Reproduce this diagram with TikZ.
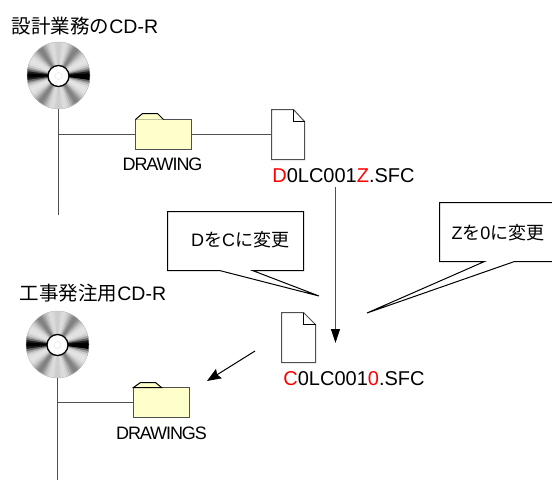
\documentclass[tikz,border=0pt]{standalone}
\usepackage{fontspec}
\setmainfont{Liberation Sans}
\newfontfamily\jpfont{Noto Sans CJK JP}
\newfontfamily\tightfont[LetterSpace=-6]{Liberation Sans}
\usetikzlibrary{arrows.meta,shapes.geometric}
\definecolor{foldercol}{HTML}{FFFFCC}
\definecolor{linecol}{HTML}{505050}
\begin{document}
\begin{tikzpicture}[x=1pt,y=-1pt,
	cddisc/.style = {ellipse, draw=gray!50, line width=0.4pt, fill=white, minimum width=63pt, minimum height=67pt, inner sep=0pt, outer sep=0pt,
		path picture={
			\foreach \a in {0,4,...,356}{
				\pgfmathsetmacro\t{abs(abs(mod(\a+2,180)-90)-90)}
				\pgfmathsetmacro\p{100*min(1,0.1+1.0*exp(-(\t/12)*(\t/12))+0.4*exp(-((\t-56)/13)*((\t-56)/13))+0.1*exp(-((\t-90)/8)*((\t-90)/8)))}
				\fill[black!\p, shift={(path picture bounding box.center)}] (0,0) -- (\a:40) -- (\a+12:40) -- cycle;
			}
		}},
	cdhole/.style = {circle, draw=black, line width=1.3pt, fill=white, minimum size=21pt, inner sep=0pt},
	cdspot/.style = {circle, draw=black!10, line width=0.5pt, minimum size=7pt, inner sep=0pt},
	conn/.style = {draw=linecol, line width=1pt},
	thinline/.style = {draw=black, line width=1pt},
	folderbox/.style = {rectangle, draw=linecol, line width=1pt, fill=foldercol, minimum width=56pt, minimum height=30pt, inner sep=0pt, outer sep=0pt},
	filebox/.style = {rectangle, minimum width=33pt, minimum height=50pt, inner sep=0pt, outer sep=0pt},
	callbox/.style = {rectangle, minimum height=59pt, inner sep=0pt, outer sep=0pt},
	title/.style = {inner sep=0pt, font=\fontsize{19.5}{21}\selectfont},
	dirname/.style = {inner sep=0pt, font=\tightfont\fontsize{18}{20}\selectfont},
	fname/.style = {inner sep=0pt, font=\fontsize{20}{22}\selectfont},
	calltext/.style = {inner sep=0pt, font=\fontsize{18}{20}\selectfont}]
	\useasboundingbox (0,0) rectangle (552,480);

	% upper CD
	\node[title] (ta) at (85,26) {{\jpfont 設計業務の}CD-R};
	\node[cddisc] (cda) at (58.5,75.5) {};
	\node[cdhole] (ha) at (58.5,76) {};
	\node[cdspot] (sa) at (58.5,76) {};
	\node[folderbox] (fa) at (163.5,134.5) {};
	\node[dirname] (da) at (162.5,164) {DRAWING};
	\node[filebox] (pa) at (288,134.5) {};
	\node[fname] (la) at (343.5,176) {\textcolor{red}{D}0LC001\textcolor{red}{Z}.SFC};
	\coordinate (brancha) at (58.5,134.5);
	\coordinate (enda) at (58.5,215);

	% lower CD
	\node[title] (tb) at (93,293) {{\jpfont 工事発注用}CD-R};
	\node[cddisc] (cdb) at (57.5,344.5) {};
	\node[cdhole] (hb) at (57.5,345) {};
	\node[cdspot] (sb) at (57.5,345) {};
	\node[folderbox] (fb) at (161.5,402.5) {};
	\node[dirname] (db) at (161.5,433) {DRAWINGS};
	\node[filebox, minimum width=34pt] (pb) at (298.5,337.5) {};
	\node[fname] (lb) at (354,379) {\textcolor{red}{C}0LC001\textcolor{red}{0}.SFC};
	\coordinate (branchb) at (57.5,402.5);
	\coordinate (endb) at (57.5,480);

	% callouts
	\node[callbox, minimum width=136pt] (ca) at (235.5,241) {};
	\node[calltext] (tca) at (240,240) {D{\jpfont を}C{\jpfont に変更}};
	\coordinate (tipa) at (319,296);
	\node[callbox, minimum width=114pt] (cb) at (496.5,232) {};
	\node[calltext] (tcb) at (498,233) {Z{\jpfont を}0{\jpfont に変更}};
	\coordinate (tipb) at (367,313);

	% arrows
	\coordinate (downa) at (335.5,187);
	\coordinate (downb) at (335.5,343);
	\coordinate (lefta) at (255,351);
	\coordinate (leftb) at (207,381);

	\draw[conn] (cda) -- (enda);
	\draw[conn] (brancha) -- (fa.west);
	\draw[conn] (fa.east) -- (pa.west);
	\draw[conn] (cdb) -- (endb);
	\draw[conn] (branchb) -- (fb.west);

	\draw[thinline, fill=foldercol] (fa.north west) -- ++(7,-6) -- ++(15,0) -- ++(6,6);
	\draw[thinline, fill=foldercol] (fb.north west) -- ++(7,-5) -- ++(15,0) -- ++(6,5) -- cycle;

	\draw[conn, fill=white] (pa.north west) -- ++(22,0) -- ++(11,12) -- (pa.south east) -- (pa.south west) -- cycle;
	\draw[thinline] (pa.north west) ++(22,0) -- ++(0,12) -- ++(11,0);
	\draw[conn, fill=white] (pb.north west) -- ++(22,0) -- ++(12,12) -- (pb.south east) -- (pb.south west) -- cycle;
	\draw[thinline] (pb.north west) ++(22,0) -- ++(0,12) -- ++(12,0);

	\draw[thinline] (ca.south west) -- (ca.north west) -- (ca.north east) -- (ca.south east)
		-- ++(-51,0) -- (tipa) -- ([xshift=52pt]ca.south west) -- cycle;
	\draw[thinline] ([xshift=45pt]cb.south west) -- (tipb) -- ([xshift=75pt]cb.south west)
		-- (cb.south east) -- (cb.north east) -- (cb.north west) -- (cb.south west) -- cycle;

	\draw[conn, -{Triangle[black,length=14pt,width=9pt]}] (downa) -- (downb);
	\draw[thinline, -{Stealth[length=14pt,width=11pt,inset=2pt]}] (lefta) -- (leftb);
\end{tikzpicture}
\end{document}
